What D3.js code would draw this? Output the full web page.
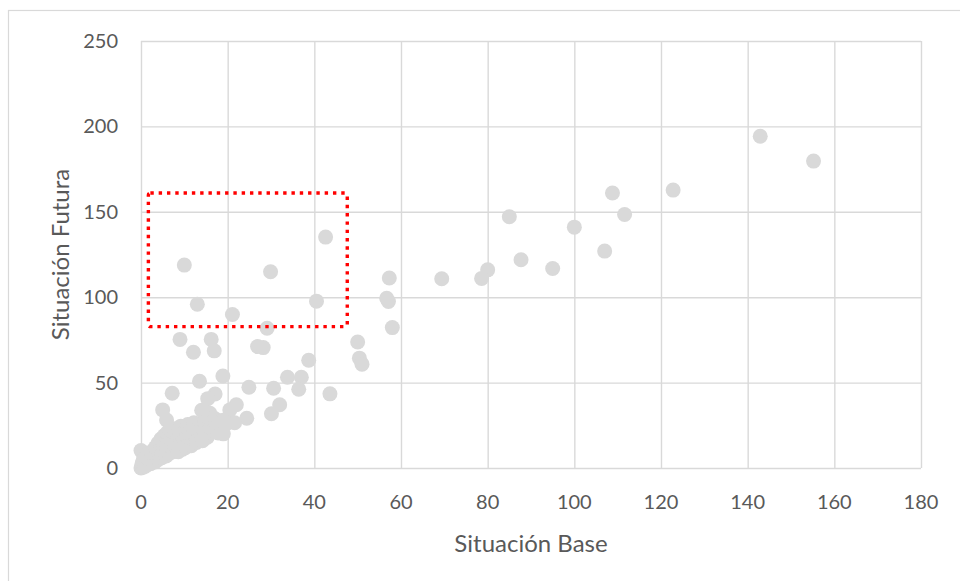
<!DOCTYPE html>
<html>
<head>
<meta charset="utf-8">
<script src="https://cdn.jsdelivr.net/npm/d3@7"></script>
<style>
  html, body { margin: 0; padding: 0; background: #ffffff; }
  svg { display: block; }
  text { font-family: Lato, "Noto Sans", sans-serif; fill: #595959; }
</style>
</head>
<body>
<svg id="chart" width="960" height="581"></svg>
<script>
// Situación Base (x) vs Situación Futura (y), one entry per observation
const baseValues = [
  142.9, 155.2, 122.8, 108.8, 111.6, 85.0, 100.0, 107.0, 87.7, 95.0,
  80.0, 78.6, 69.4, 57.3, 56.7, 57.1, 58.0, 50.0, 50.4, 51.0,
  42.6, 10.0, 29.9, 13.0, 21.1, 40.5, 29.1, 9.0, 16.2, 16.9,
  12.1, 26.9, 28.2, 38.7, 18.9, 13.5, 33.8, 37.0, 36.4, 24.9,
  30.6, 43.6, 7.2, 17.1, 15.4, 32.0, 30.1, 22.0, 24.4, 21.6,
  19.0, 5.0, 14.0, 15.9, 5.9, 0.0, 20.5, 18.5,
  0, 0.2, 0.5, 0.3, 0.8, 1.0, 1.2, 1.5, 0.6, 1.8, 2.0, 2.2, 1.0, 1.6,
  2.5, 2.8, 3.0, 3.2, 3.5, 3.8, 4.0, 2.4, 3.3, 4.2, 3.9,
  4.5, 4.8, 5.0, 5.2, 5.5, 5.8, 6.0, 4.6, 5.4, 6.2, 6.0,
  6.5, 6.8, 7.0, 7.2, 7.5, 7.8, 8.0, 6.6, 7.6, 8.2,
  8.5, 8.8, 9.0, 9.2, 9.5, 9.6, 10.0, 8.6, 10.2, 10.3,
  10.5, 10.8, 11.0, 11.3, 11.6, 11.9, 12.0, 12.2,
  12.5, 12.8, 13.0, 13.3, 13.6, 13.9, 14.0, 14.2,
  14.5, 14.8, 15.0, 15.3, 15.6, 15.9, 16.0,
  16.4, 16.8, 17.0, 17.4, 17.8, 18.0,
  18.5, 19.0, 19.5
];
const futureValues = [
  194.2, 179.7, 162.7, 161.0, 148.4, 147.1, 141.0, 127.0, 121.9, 116.8,
  116.0, 111.0, 110.8, 111.2, 99.4, 97.5, 82.2, 73.8, 64.3, 60.8,
  135.2, 118.8, 114.9, 95.9, 89.9, 97.7, 81.8, 75.3, 75.3, 68.6,
  67.8, 71.1, 70.5, 63.1, 53.9, 50.8, 53.1, 53.1, 46.1, 47.3,
  46.7, 43.4, 43.8, 43.3, 40.6, 37.0, 31.8, 37.0, 29.1, 26.5,
  20.0, 34.0, 33.8, 32.0, 28.1, 10.2, 34.0, 24.0,
  0, 1.5, 0.5, 3.0, 2.0, 1.0, 4.0, 2.5, 5.5, 5.0, 3.0, 2.5, 7.0, 8.0,
  6.0, 4.0, 8.0, 3.5, 6.5, 10.0, 5.0, 9.5, 12.0, 8.0, 14.5,
  11.0, 6.0, 9.0, 13.0, 16.0, 7.0, 11.0, 17.0, 19.0, 14.0, 20.5,
  8.5, 17.0, 12.0, 21.0, 9.5, 15.0, 19.0, 22.5, 23.0, 12.0,
  17.0, 22.0, 14.0, 24.5, 19.0, 11.0, 16.0, 9.5, 22.0, 12.0,
  18.0, 25.5, 14.0, 21.0, 13.0, 17.0, 24.0, 26.5,
  19.0, 15.0, 22.0, 17.0, 26.0, 24.0, 20.0, 16.0,
  22.0, 27.0, 25.0, 18.0, 28.5, 21.0, 24.0,
  27.0, 22.0, 29.0, 25.0, 20.5, 26.5,
  24.0, 28.0, 25.5
];

const xTicks = [0, 20, 40, 60, 80, 100, 120, 140, 160, 180];
const yTicks = [0, 50, 100, 150, 200, 250];

// Highlighted region (data units): [x0, x1] and [y0, y1]
const highlightX = [1.7, 47.6];
const highlightY = [82.8, 161.0];

const xTitle = "Situación Base";
const yTitle = "Situación Futura";

const svg = d3.select("#chart");
const W = 960, H = 581;
const plot = { left: 141, right: 921, top: 41, bottom: 468 };

const x = d3.scaleLinear().domain([0, 180]).range([plot.left, plot.right]);
const y = d3.scaleLinear().domain([0, 250]).range([plot.bottom, plot.top]);

svg.append("rect").attr("width", W).attr("height", H).attr("fill", "#ffffff");

// chart area border
svg.append("rect")
  .attr("x", 8.5).attr("y", 10.5)
  .attr("width", W + 20).attr("height", H + 20)
  .attr("fill", "none").attr("stroke", "#d9d9d9").attr("stroke-width", 1.2);

const gridColor = "#d9d9d9";

// grid via axes with full-length ticks
const gx = svg.append("g")
  .attr("transform", `translate(0,${plot.bottom})`)
  .call(d3.axisBottom(x).tickValues(xTicks).tickSize(-(plot.bottom - plot.top)).tickFormat(""));
gx.select(".domain").remove();
gx.selectAll("line").attr("stroke", gridColor).attr("stroke-width", 1.4);

const gy = svg.append("g")
  .attr("transform", `translate(${plot.left},0)`)
  .call(d3.axisLeft(y).tickValues(yTicks).tickSize(-(plot.right - plot.left)).tickFormat(""));
gy.select(".domain").remove();
gy.selectAll("line").attr("stroke", gridColor).attr("stroke-width", 1.4);

// tick labels
svg.append("g").selectAll("text")
  .data(xTicks).join("text")
  .attr("x", d => x(d))
  .attr("y", plot.bottom + 41)
  .attr("text-anchor", "middle")
  .attr("font-size", 20)
  .text(d => d);

svg.append("g").selectAll("text")
  .data(yTicks).join("text")
  .attr("x", 118)
  .attr("y", d => y(d) + 7)
  .attr("text-anchor", "end")
  .attr("font-size", 20)
  .text(d => d);

// axis titles
svg.append("text")
  .attr("x", (plot.left + plot.right) / 2)
  .attr("y", 552)
  .attr("text-anchor", "middle")
  .attr("font-size", 24)
  .text(xTitle);

svg.append("text")
  .attr("transform", `translate(69,${(plot.top + plot.bottom) / 2}) rotate(-90)`)
  .attr("text-anchor", "middle")
  .attr("font-size", 24)
  .text(yTitle);

// points
const points = baseValues.map((b, i) => ({ b, f: futureValues[i] }));
svg.append("g").selectAll("circle")
  .data(points).join("circle")
  .attr("cx", d => x(d.b))
  .attr("cy", d => y(d.f))
  .attr("r", 7.5)
  .attr("fill", "#d9d9d9");

// dotted highlight box
svg.append("rect")
  .attr("x", x(highlightX[0]))
  .attr("y", y(highlightY[1]))
  .attr("width", x(highlightX[1]) - x(highlightX[0]))
  .attr("height", y(highlightY[0]) - y(highlightY[1]))
  .attr("rx", 2)
  .attr("fill", "none")
  .attr("stroke", "#ff0000")
  .attr("stroke-width", 3.4)
  .attr("stroke-dasharray", "3.4 4.9");
</script>
</body>
</html>
